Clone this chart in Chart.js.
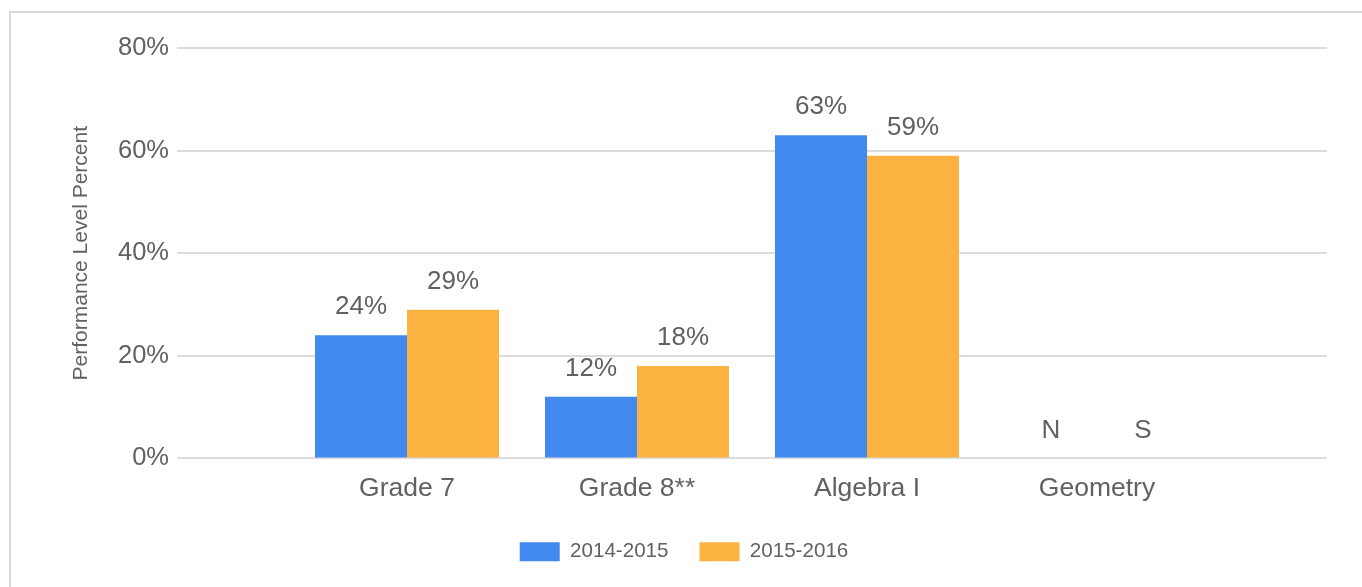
<!DOCTYPE html>
<html>
<head>
<meta charset="utf-8">
<script src="https://cdn.jsdelivr.net/npm/chart.js@4"></script>
<style>
  html, body { margin: 0; padding: 0; background: #fff; overflow: hidden; }
  #frame { position: absolute; left: 9px; top: 11px; width: 1400px; height: 700px;
           border-left: 2px solid #d9d9d9; border-top: 2px solid #d9d9d9; }
  #wrap { position: absolute; left: 0; top: 0; width: 1362px; height: 587px; }
</style>
</head>
<body>
<div id="frame"></div>
<div id="wrap"><canvas id="c" width="1362" height="587"></canvas></div>
<script>
const categories = ['', 'Grade 7', 'Grade 8**', 'Algebra I', 'Geometry', ''];
const seriesNames = ['2014-2015', '2015-2016'];
const values2014 = [null, 24, 12, 63, null, null];
const values2015 = [null, 29, 18, 59, null, null];
const notes2014 = [null, null, null, null, 'N', null];
const notes2015 = [null, null, null, null, 'S', null];
const yTicks = [0, 20, 40, 60, 80];

const textColor = '#616161';
const font = 'Liberation Sans, Arial, sans-serif';

const labelPlugin = {
  id: 'barLabels',
  afterDatasetsDraw(chart) {
    const ctx = chart.ctx;
    const yScale = chart.scales.y;
    const notes = [notes2014, notes2015];
    ctx.save();
    ctx.font = '26px ' + font;
    ctx.fillStyle = textColor;
    ctx.textAlign = 'center';
    ctx.textBaseline = 'middle';
    chart.data.datasets.forEach((ds, di) => {
      const meta = chart.getDatasetMeta(di);
      meta.data.forEach((el, i) => {
        const v = ds.data[i];
        let txt = null;
        if (v !== null && v !== undefined) txt = v + '%';
        else if (notes[di][i]) txt = notes[di][i];
        if (!txt) return;
        const y = yScale.getPixelForValue(v == null ? 0 : v) - 28;
        ctx.fillText(txt, el.x, y);
      });
    });
    ctx.restore();
  }
};

const legendShift = {
  id: 'legendShift',
  afterLayout(chart) {
    const lg = chart.legend;
    if (lg) { lg.left -= 12; lg.right -= 12; }
  }
};

new Chart(document.getElementById('c'), {
  type: 'bar',
  data: {
    labels: categories,
    datasets: [
      { label: seriesNames[0], data: values2014, backgroundColor: '#4189ee' },
      { label: seriesNames[1], data: values2015, backgroundColor: '#fbb241' }
    ]
  },
  options: {
    responsive: false,
    animation: false,
    devicePixelRatio: 1,
    layout: { padding: { left: 65, right: 35, top: 48, bottom: 15 } },
    datasets: { bar: { categoryPercentage: 0.8, barPercentage: 1.0 } },
    scales: {
      x: {
        offset: false,
        grid: { display: false },
        border: { display: false },
        ticks: { color: textColor, font: { family: font, size: 26.5 }, padding: 6, maxRotation: 0, autoSkip: false },
        afterFit(scale) { scale.height = 52; }
      },
      y: {
        min: 0, max: 80,
        afterBuildTicks(scale) { scale.ticks = yTicks.map(v => ({ value: v })); },
        grid: { color: '#dcdcdc', lineWidth: 2, drawTicks: false },
        border: { display: false },
        ticks: { color: textColor, font: { family: font, size: 25.5 }, padding: 8, callback: v => v + '%' },
        title: { display: true, text: 'Performance Level Percent', color: textColor, font: { family: font, size: 21 }, padding: { top: 4, bottom: 0 } },
        afterFit(scale) { scale.width = 112; }
      }
    },
    plugins: {
      legend: {
        position: 'bottom',
        labels: { boxWidth: 40, boxHeight: 19, color: textColor, font: { family: font, size: 20.6 }, padding: 31 }
      },
      tooltip: { enabled: false }
    }
  },
  plugins: [labelPlugin, legendShift]
});
</script>
</body>
</html>
